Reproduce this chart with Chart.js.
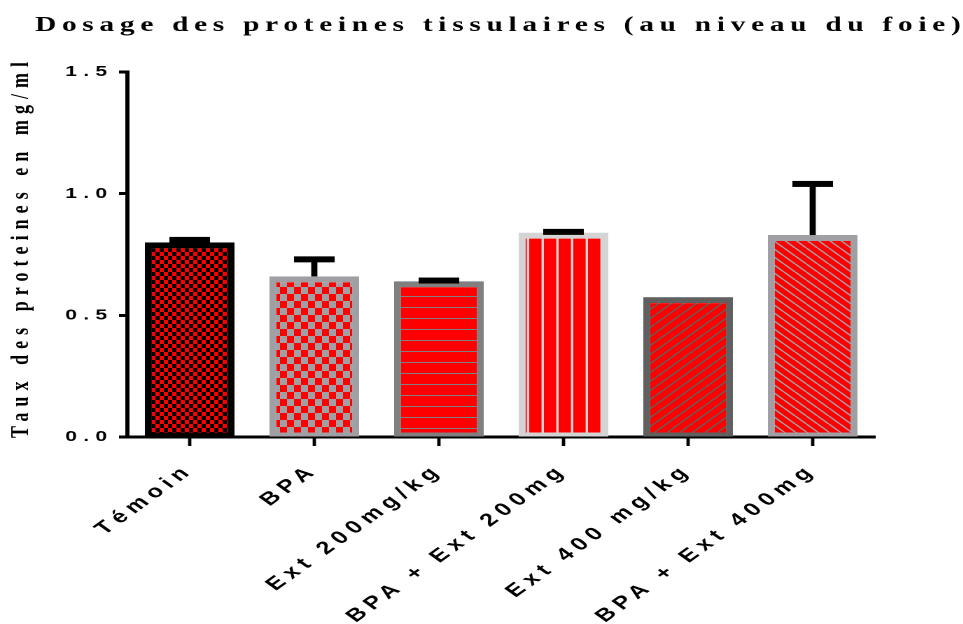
<!DOCTYPE html>
<html>
<head>
<meta charset="utf-8">
<script src="https://cdn.jsdelivr.net/npm/chart.js@4"></script>
<style>
	body { margin: 0; background: #fff; overflow: hidden; }
	/* the figure is drawn narrow then widened, as in the exported graph */
	#wrap { width: 688px; height: 624px; transform: scaleX(1.4); transform-origin: 0 0; }
	#proteines { width: 688px; height: 624px; }
</style>
</head>
<body>
<div id="wrap"><canvas id="proteines" width="688" height="624"></canvas></div>
<script>
//setup
const groupes = [
	"Témoin",
	"BPA",
	"Ext 200mg/kg",
	"BPA + Ext 200mg",
	"Ext 400 mg/kg",
	"BPA + Ext 400mg",
];
const moyennes = [0.80, 0.66, 0.64, 0.84, 0.575, 0.83];
const erreurs = [0.01, 0.07, 0.003, 0.003, 0, 0.21];
const yTickValues = [0, 0.5, 1.0, 1.5];

const titreChart = "Dosage des proteines tissulaires (au niveau du foie)";
const titreY = "Taux des proteines en mg/ml";

const bordures = ["#000000", "#a0a0a4", "#808080", "#d4d4d4", "#606060", "#a0a0a4"];

//pattern helpers (tiles at 2x, pattern scaled back)
const R = 2;
function tile(w, h, draw) {
	const c = document.createElement("canvas");
	c.width = w * R;
	c.height = h * R;
	const g = c.getContext("2d");
	g.scale(R, R);
	g.fillStyle = "#ff0000";
	g.fillRect(0, 0, w, h);
	draw(g, w, h);
	const p = g.createPattern(c, "repeat");
	p.setTransform(new DOMMatrix([1 / R, 0, 0, 1 / R, 0, 0]));
	return p;
}

const damier = (cw, ch, color) =>
	tile(cw * 2, ch * 2, (g) => {
		g.fillStyle = color;
		g.fillRect(0, 0, cw, ch);
		g.fillRect(cw, ch, cw, ch);
	});

const diagonale = (w, h, color, up) =>
	tile(w, h, (g) => {
		g.strokeStyle = color;
		g.lineWidth = 1.3;
		[-w, 0, w].forEach((dx) => {
			g.beginPath();
			if (up) {
				g.moveTo(dx, h);
				g.lineTo(dx + w, 0);
			} else {
				g.moveTo(dx, 0);
				g.lineTo(dx + w, h);
			}
			g.stroke();
		});
	});

const motifs = [
	damier(3, 4, "#000000"),
	damier(5, 7, "#a0a0a4"),
	tile(4, 11, (g) => {
		g.fillStyle = "#808080";
		g.fillRect(0, 10, 4, 1.2);
	}),
	tile(10.5, 4, (g) => {
		g.fillStyle = "#d4d4d4";
		g.fillRect(8.8, 0, 1.7, 4);
	}),
	diagonale(9, 9, "#606060", true),
	diagonale(8, 8, "#a0a0a4", false),
];

const data = {
	labels: groupes,
	datasets: [
		{
			data: moyennes,
			backgroundColor: motifs,
			borderColor: bordures,
			borderWidth: { top: 6, right: 5, bottom: 4, left: 5 },
			borderSkipped: false,
			barPercentage: 0.72,
			categoryPercentage: 1,
		},
	],
};

//letter spacing for tick text
const espacement = {
	id: "espacement",
	beforeDraw(chart) {
		chart.ctx.letterSpacing = "4.5px";
	},
};

//error bars (SEM), drawn above each bar
const barresErreur = {
	id: "barresErreur",
	afterDatasetsDraw(chart) {
		const {
			ctx,
			scales: { y },
		} = chart;
		chart.getDatasetMeta(0).data.forEach((bar, i) => {
			if (!erreurs[i]) return;
			const yTop = y.getPixelForValue(moyennes[i] + erreurs[i]);
			ctx.save();
			ctx.fillStyle = "#000";
			ctx.fillRect(bar.x - 2.2, yTop, 4.4, bar.y - yTop);
			ctx.fillRect(bar.x - 14.5, yTop - 3, 29, 6);
			ctx.restore();
		});
	},
};

//chart title + y axis title
const titres = {
	id: "titres",
	afterDraw(chart) {
		const { ctx } = chart;
		ctx.save();
		ctx.fillStyle = "#000";
		ctx.textBaseline = "alphabetic";
		ctx.textAlign = "left";
		ctx.font = 'bold 21px "Liberation Serif"';
		ctx.letterSpacing = "0px";
		let w = ctx.measureText(titreChart).width;
		ctx.letterSpacing = ((661 - w) / (titreChart.length - 1)).toFixed(2) + "px";
		ctx.fillText(titreChart, 25, 31);

		ctx.font = 'bold 18px "Liberation Serif"';
		ctx.translate(20, 438);
		ctx.rotate(-Math.PI / 2);
		ctx.letterSpacing = "0px";
		w = ctx.measureText(titreY).width;
		ctx.letterSpacing = ((376 - w) / (titreY.length - 1)).toFixed(2) + "px";
		ctx.fillText(titreY, 0, 0);
		ctx.restore();
	},
};

//config
const config = {
	type: "bar",
	data,
	options: {
		responsive: false,
		devicePixelRatio: 2,
		animation: false,
		layout: {
			padding: { top: 72, right: 63, bottom: 0, left: 0 },
		},
		scales: {
			x: {
				afterFit(scale) {
					scale.height = 187;
				},
				grid: {
					offset: false,
					drawOnChartArea: false,
					drawTicks: true,
					tickLength: 9,
					tickWidth: 2.4,
					tickColor: "#000",
				},
				border: { display: true, width: 3, color: "#000" },
				ticks: {
					autoSkip: false,
					minRotation: 45,
					maxRotation: 45,
					padding: 14,
					color: "#000",
					font: { family: "Liberation Sans", size: 18, weight: "bold" },
				},
			},
			y: {
				min: 0,
				max: 1.5,
				afterFit(scale) {
					scale.width = 91;
				},
				afterBuildTicks(scale) {
					scale.ticks = yTickValues.map((v) => ({ value: v }));
				},
				grid: {
					drawOnChartArea: false,
					drawTicks: true,
					tickLength: 6,
					tickWidth: 3,
					tickColor: "#000",
				},
				border: { display: true, width: 3, color: "#000" },
				ticks: {
					padding: 4,
					color: "#000",
					font: { family: "Liberation Sans", size: 15, weight: "bold" },
					callback: (v) => Number(v).toFixed(1),
				},
			},
		},
		plugins: {
			legend: { display: false },
			tooltip: { enabled: false },
			title: { display: false },
		},
	},
	plugins: [espacement, barresErreur, titres],
};

//render
const chartProteines = new Chart(document.getElementById("proteines"), config);
</script>
</body>
</html>
